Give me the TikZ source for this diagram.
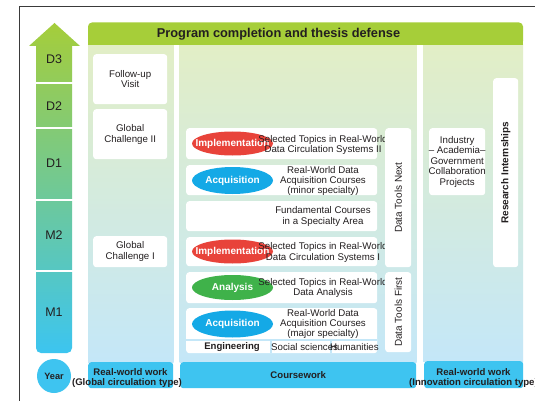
\documentclass[tikz,border=0pt]{standalone}
\usepackage{fontspec}
\setmainfont{Liberation Sans}
\usetikzlibrary{shapes.geometric}
\definecolor{bannergreen}{HTML}{A6CE39}
\definecolor{colTop}{HTML}{E2EEC6}
\definecolor{colBot}{HTML}{C4E7F8}
\definecolor{cyanbox}{HTML}{3EC4F0}
\definecolor{implred}{HTML}{E8433A}
\definecolor{acqblue}{HTML}{14A9E6}
\definecolor{anagreen}{HTML}{3FB24A}
\definecolor{txt}{HTML}{231F20}
\definecolor{arrTop}{HTML}{A5CD3A}
\definecolor{arrMid}{HTML}{84C992}
\definecolor{arrBot}{HTML}{3CC5F0}
\definecolor{framegray}{HTML}{3A3A3A}
\begin{document}
\begin{tikzpicture}[x=1pt,y=-1pt,
  wbox/.style={fill=white, rounded corners=3pt, draw=none},
  cbox/.style={fill=cyanbox, rounded corners=3pt, draw=none},
  lbl/.style={font=\fontsize{9.7}{10.6}\selectfont, text=txt, align=center, inner sep=0pt},
  blbl/.style={font=\bfseries\fontsize{9.6}{10.6}\selectfont, text=txt, align=center, inner sep=0pt},
  yr/.style={font=\fontsize{12.5}{14}\selectfont, text=txt, inner sep=0pt},
  oval/.style={ellipse, minimum width=81pt, minimum height=25pt, inner sep=0pt},
  ovaltext/.style={text=white, inner sep=0pt, font=\bfseries\fontsize{10}{11}\selectfont}
]
\useasboundingbox (0,0) rectangle (535,401);
\fill[white] (0,0) rectangle (535,401);
% frame
\draw[framegray, line width=0.8pt] (19,401) -- (19,6) -- (535,6);

% year arrow
\shade[top color=arrTop, middle color=arrMid, bottom color=arrBot]
  [rounded corners=0pt] (36,46) -- (29,46) -- (54.5,23) -- (80,46) -- (72,46)
  [rounded corners=5pt] -- (72,353) -- (36,353) [rounded corners=0pt] -- cycle;
\foreach \yy in {83,128,199.5,271} { \draw[white, line width=2pt] (35,\yy) -- (73,\yy); }
\node[yr] (d3) at (54,59) {D3};
\node[yr] (d2) at (54,106) {D2};
\node[yr] (d1) at (54,163) {D1};
\node[yr] (m2) at (54,235) {M2};
\node[yr] (m1) at (54,312) {M1};
\node[circle, fill=cyanbox, minimum size=34pt, inner sep=0pt, font=\bfseries\fontsize{9.2}{10}\selectfont, text=txt] (year) at (54,376) {Year};

% columns
\shade[top color=colTop, bottom color=colBot] (88,45) rectangle (173.5,362);
\shade[top color=colTop, bottom color=colBot] (179.5,45) rectangle (416.5,362);
\shade[top color=colTop, bottom color=colBot] (423,45) rectangle (523,361);

% banner
\fill[bannergreen, rounded corners=4pt] (88,22.5) rectangle (523,45);
\fill[bannergreen] (88,38) rectangle (523,45);
\node[font=\bfseries\fontsize{12.8}{14}\selectfont, text=txt, inner sep=0pt] (banner) at (278.5,34) {Program completion and thesis defense};

% column 1 boxes
\node[wbox, minimum width=74pt, minimum height=50pt, anchor=north west] (fv) at (93,54) {};
\node[lbl] at (fv.center) {Follow-up\\Visit};
\node[wbox, minimum width=74pt, minimum height=50pt, anchor=north west] (gc2) at (93,109) {};
\node[lbl] at (gc2.center) {Global\\Challenge II};
\node[wbox, minimum width=74pt, minimum height=31pt, anchor=north west] (gc1) at (93,236) {};
\node[lbl] at (gc1.center) {Global\\Challenge I};

% column 2 rows
\node[wbox, minimum width=191pt, minimum height=31pt, anchor=north west] (r1) at (186,128) {};
\node[wbox, minimum width=191pt, minimum height=30pt, anchor=north west] (r2) at (186,165) {};
\node[wbox, minimum width=191pt, minimum height=30pt, anchor=north west] (r3) at (186,201) {};
\node[wbox, minimum width=191pt, minimum height=29pt, anchor=north west] (r4) at (186,237) {};
\node[wbox, minimum width=191pt, minimum height=31pt, anchor=north west] (r5) at (186,272) {};
\node[wbox, minimum width=191pt, minimum height=45pt, anchor=north west] (r6) at (186,308) {};
\draw[colBot, line width=1.2pt] (186,340) -- (377,340);
\draw[colBot, line width=1.2pt] (271,340) -- (271,353);
\draw[colBot, line width=1.2pt] (331,340) -- (331,353);

\node[oval, fill=implred, minimum height=24pt] (e1) at (232.5,143.5) {};
\node[ovaltext] at (e1.center) {Implementation};
\node[lbl] (t1) at (323,145) {Selected Topics in Real-World\\Data Circulation Systems II};
\node[oval, fill=acqblue, minimum height=27pt] (e2) at (232.5,180.5) {};
\node[ovaltext] at (e2.center) {Acquisition};
\node[lbl, font=\fontsize{9.7}{9.6}\selectfont] (t2) at (323,181) {Real-World Data\\Acquisition Courses\\(minor specialty)};
\node[lbl] (t3) at (323,216.5) {Fundamental Courses\\in a Specialty Area};
\node[oval, fill=implred, minimum height=24pt] (e4) at (232.5,251.5) {};
\node[ovaltext] at (e4.center) {Implementation};
\node[lbl] (t4) at (323,252.5) {Selected Topics in Real-World\\Data Circulation Systems I};
\node[oval, fill=anagreen] (e5) at (232.5,287.5) {};
\node[ovaltext] at (e5.center) {Analysis};
\node[lbl] (t5) at (323,288) {Selected Topics in Real-World\\Data Analysis};
\node[oval, fill=acqblue, minimum height=27pt] (e6) at (232.5,324) {};
\node[ovaltext] at (e6.center) {Acquisition};
\node[lbl, font=\fontsize{9.7}{9.6}\selectfont] (t6) at (323,324) {Real-World Data\\Acquisition Courses\\(major specialty)};
\node[blbl] (eng) at (232,347) {Engineering};
\node[lbl, anchor=west] (soc) at (271,347) {Social sciences};
\node[lbl, anchor=west] (hum) at (330,347) {Humanities};

% data tools
\node[wbox, minimum width=26pt, minimum height=139pt, anchor=north west] (dtn) at (385,128) {};
\node[lbl, rotate=90, font=\fontsize{10}{11}\selectfont] at (dtn.center) {Data Tools Next};
\node[wbox, minimum width=26pt, minimum height=80pt, anchor=north west] (dtf) at (385,272) {};
\node[lbl, rotate=90, font=\fontsize{10}{11}\selectfont] at (dtf.center) {Data Tools First};

% column 3
\node[wbox, minimum width=56pt, minimum height=67pt, anchor=north west] (iag) at (429,128) {};
\node[lbl] at (iag.center) {Industry\\-- Academia--\\Government\\Collaboration\\Projects};
\node[wbox, minimum width=25pt, minimum height=189pt, anchor=north west] (ri) at (493,78) {};
\node[blbl, rotate=90, font=\bfseries\fontsize{10}{11}\selectfont] at (ri.center) {Research Internships};

% bottom boxes
\node[cbox, minimum width=85pt, minimum height=26pt, anchor=north west] (rwg) at (88,362) {};
\node[cbox, minimum width=236pt, minimum height=26pt, anchor=north west] (cw) at (180,362) {};
\node[cbox, minimum width=99pt, minimum height=27pt, anchor=north west] (rwi) at (424,361) {};
\node[blbl] at (130.5,372) {Real-world work};
\node[blbl] at (127,383) {(Global circulation type)};
\node[blbl] at (cw.center) {Coursework};
\node[blbl] at (473.5,372) {Real-world work};
\node[blbl] at (473.5,383) {(Innovation circulation type)};
\end{tikzpicture}
\end{document}
